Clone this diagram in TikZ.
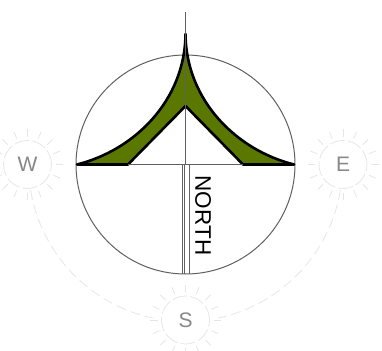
\documentclass[tikz,border=0pt]{standalone}
\usepackage{fontspec}
\setmainfont{Liberation Sans}
\definecolor{olivefill}{HTML}{5A7800}
\definecolor{sunline}{HTML}{E6E6E6}
\definecolor{sunlabel}{HTML}{888888}
\definecolor{thinline}{HTML}{606060}
\tikzset{
  sunnode/.style={circle,draw=sunline,line width=0.8pt,dash pattern=on 15pt off 3pt,
    minimum size=48pt,inner sep=0pt,text=sunlabel,font=\fontsize{21}{21}\selectfont},
  sunray/.style={draw=sunline,line width=0.8pt},
  trail/.style={draw=sunline,line width=0.8pt,dash pattern=on 10pt off 5pt},
  thin line/.style={draw=thinline,line width=1pt},
  star/.style={draw=black,fill=olivefill,line width=2.6pt,line join=round}
}
\begin{document}
\begin{tikzpicture}[x=1pt,y=-1pt]
\useasboundingbox (0,0) rectangle (382,350);
\coordinate (C) at (185.5,164.5);
% sun trail
\draw[trail] (C) ++(170.7:157) arc[start angle=170.7,end angle=102,radius=157];
\draw[trail] (C) ++(9.3:157) arc[start angle=9.3,end angle=78,radius=157];
% compass circle
\node[circle,thin line,minimum size=219pt,inner sep=0pt] (ring) at (C) {};
% star
\coordinate (tip) at (185.5,34);
\coordinate (west) at (77,164.5);
\coordinate (east) at (294,164.5);
\coordinate (apex) at (185.5,106);
\coordinate (bl) at (128,164.5);
\coordinate (br) at (243,164.5);
\path[star] (west) .. controls (135,150) and (185,100) .. (tip)
  .. controls (186,100) and (236,150) .. (east) -- (br) -- (apex) -- (bl) -- cycle;
% axes
\coordinate (top) at (185.5,12);
\coordinate (b1) at (182,164.5);
\coordinate (b2) at (184.5,164.5);
\coordinate (b3) at (189.5,164.5);
\coordinate (e1) at (182,273.5);
\coordinate (e2) at (184.5,273.5);
\coordinate (e3) at (189.5,273.5);
\draw[thin line] (top) -- (C);
\draw[thin line] (bl) -- (br);
\draw[thin line] (b1) -- (e1);
\draw[thin line] (b2) -- (e2);
\draw[thin line] (b3) -- (e3);
\node[rotate=-90,font=\fontsize{22.5}{22.5}\selectfont,inner sep=0pt] (north) at (203,215.5) {NORTH};
% suns
\node[sunnode] (W) at (27.5,164.5) {W};
\node[sunnode] (E) at (343,164.5) {E};
\node[sunnode] (S) at (185.5,320) {S};
\foreach \n in {W,E,S}{
  \foreach \a in {0,22.5,...,337.5}{
    \draw[sunray] (\n) ++(\a:28) -- ++(\a:7.5);
  }
}
\end{tikzpicture}
\end{document}
